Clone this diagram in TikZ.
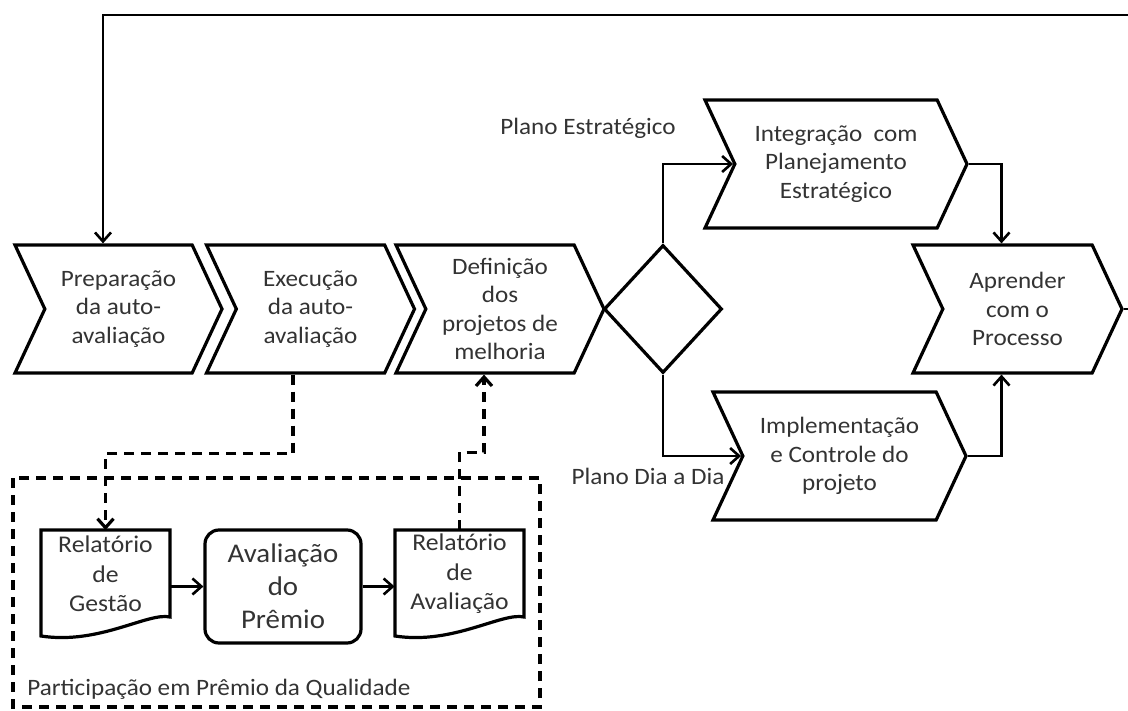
\documentclass[tikz,border=0pt]{standalone}
\usepackage{fontspec}
\setmainfont{Carlito}[FakeStretch=1.07]
\usetikzlibrary{shapes.symbols,shapes.geometric,arrows.meta,calc}

\tikzset{
  flow/.style={line width=1.3pt, -{Straight Barb[length=4.5pt,width=8pt]}},
  dashflow/.style={line width=1.6pt, dash pattern=on 5pt off 3.5pt, -{Straight Barb[length=4.5pt,width=8pt]}},
  stepchev/.style={shape=signal, signal from=west, signal to=east, signal pointer angle=130, draw, line width=1.6pt, align=center, inner sep=0pt, minimum height=64pt, text=black!80, font=\fontsize{11.75}{14.2}\selectfont},
  docbox/.style={align=center, inner sep=0pt, minimum width=64.5pt, minimum height=43.5pt, text=black!80, font=\fontsize{12}{14.75}\selectfont},
  outline/.style={line width=1.6pt, line join=miter},
  lbl/.style={inner sep=0pt, text=black!80, font=\fontsize{11.75}{14.2}\selectfont},
}

\begin{document}
\begin{tikzpicture}[x=0.5pt, y=-0.5pt]
        \useasboundingbox (0,0) rectangle (1128,711);
        % etapas
        \node[stepchev, minimum width=103.5pt] (prep) at (118.5,309) {Preparação\\da auto-\\avaliação};
        \node[stepchev, minimum width=104pt] (exec) at (310.5,309) {Execução\\da auto-\\avaliação};
        \node[stepchev, minimum width=104pt] (defi) at (500,309) {Definição\\dos\\projetos de\\melhoria};
        \node[shape=diamond, draw, line width=1.6pt, inner sep=0pt, minimum width=59pt, minimum height=64pt] (dec) at (663,309) {};
        \node[stepchev, minimum width=131pt] (integ) at (836,164) {Integração~ com\\Planejamento\\Estratégico};
        \node[stepchev, minimum width=126.5pt] (impl) at (839.5,456) {Implementação\\e Controle do\\projeto};
        \node[stepchev, minimum width=104.5pt] (aprend) at (1017.5,309) {Aprender\\com o\\Processo};
        % rótulos
        \node[lbl] (pe) at (588,128) {Plano Estratégico};
        \node[lbl] (pd) at (648,476) {Plano Dia a Dia};
        % prêmio
        \path[draw, line width=1.6pt, dash pattern=on 5pt off 3.5pt] (13,478) rectangle (540,707);
        \node[lbl, anchor=west] (part) at (27,689) {Participação em Prêmio da Qualidade};
        \node[docbox] (gest) at (105.5,574) {Relatório\\de\\Gestão};
        \path[draw, outline] (41,530) -- (170,530) -- (170,617) .. controls (148,612) and (99,645) .. (41,636) -- cycle;
        \node[draw, line width=1.6pt, rounded corners=7pt, align=center, inner sep=0pt, minimum width=78pt, minimum height=56.5pt, text=black!80, font=\fontsize{13.5}{16.5}\selectfont] (aval) at (283,586.5) {Avaliação\\do\\Prêmio};
        \node[docbox] (rela) at (459.5,574) {Relatório\\de\\Avaliação};
        \path[draw, outline] (395,530) -- (524,530) -- (524,617) .. controls (502,612) and (453,645) .. (395,636) -- cycle;
        % fluxo
        \coordinate (loopR) at (1140,15);
        \coordinate (loopL) at (103,15);
        \path[draw, flow] (aprend.east) -| (loopR) -- (loopL) -- (loopL |- prep.north);
        \path[draw, flow] (dec.north) |- (integ.west);
        \path[draw, flow] (dec.south) |- (impl.west);
        \path[draw, flow] (integ.east) -| ([xshift=-8pt]aprend.north);
        \path[draw, flow] (impl.east) -| ([xshift=-8pt]aprend.south);
        \path[draw, flow] (gest.east |- aval.west) -- (aval.west);
        \path[draw, flow] (aval.east) -- (rela.west |- aval.east);
        % tracejado
        \path[draw, dashflow] ([xshift=-8.75pt]exec.south) -- ++(0,79) -| (gest.north);
        \path[draw, dashflow] (rela.north) -- ++(0,-78) -| ([xshift=-8pt]defi.south);
\end{tikzpicture}
\end{document}
